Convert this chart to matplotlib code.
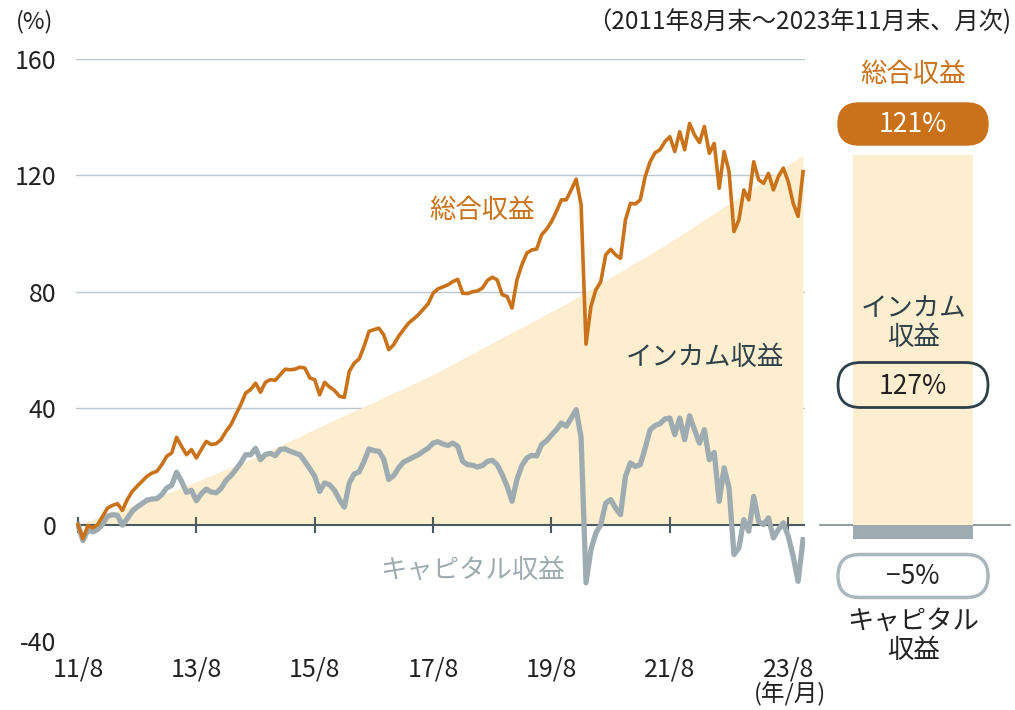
import matplotlib
matplotlib.use("Agg")
import matplotlib.pyplot as plt
from matplotlib.patches import FancyBboxPatch
import numpy as np

plt.rcParams["font.family"] = ["Noto Sans CJK JP", "DejaVu Sans"]
plt.rcParams["axes.unicode_minus"] = False

# monthly cumulative returns (%), 2011/8 .. 2023/11
total = [
    0.0, -4.9, -0.3, -1.1, 0.0, 2.9, 5.7, 6.6, 7.2, 4.9, 8.6, 11.4,
    13.2, 14.9, 16.6, 17.7, 18.3, 20.6, 23.5, 24.6, 30.0, 26.9, 24.0, 25.8,
    22.9, 25.8, 28.6, 27.5, 27.8, 29.2, 32.0, 34.3, 37.8, 41.2, 45.2, 46.4,
    48.6, 45.5, 48.9, 49.8, 49.6, 51.5, 53.4, 53.2, 53.4, 54.1, 53.8, 50.4,
    49.8, 44.6, 48.9, 47.3, 46.1, 44.1, 43.7, 52.6, 55.5, 56.9, 61.2, 66.4,
    67.0, 67.5, 65.2, 60.1, 61.8, 64.7, 67.0, 69.2, 70.6, 72.1, 74.0, 75.9,
    79.5, 81.0, 81.7, 82.4, 83.5, 84.3, 79.5, 79.4, 80.0, 80.3, 81.3, 83.9,
    85.0, 84.1, 79.0, 78.4, 74.4, 84.1, 89.3, 93.3, 94.4, 94.7, 99.6, 101.5,
    104.1, 107.6, 111.6, 111.6, 115.0, 118.7, 110.0, 62.0, 75.0, 80.7, 83.5, 92.7,
    94.6, 92.7, 91.5, 104.7, 110.4, 110.2, 111.6, 119.6, 124.7, 127.8, 128.8, 131.6,
    133.3, 128.2, 135.0, 128.8, 137.9, 133.9, 131.3, 136.8, 127.6, 131.0, 115.6, 128.2,
    121.3, 100.7, 104.7, 115.0, 111.6, 124.7, 118.5, 117.3, 120.7, 115.0, 119.6, 122.5,
    117.9, 110.4, 105.9, 121.3,
]
capital = [
    0.0, -5.5, -1.9, -2.5, -1.7, 0.2, 2.9, 3.4, 3.2, -0.2, 2.1, 4.6,
    6.1, 7.2, 8.4, 8.8, 8.9, 10.3, 12.6, 13.5, 18.0, 14.9, 11.1, 11.8,
    8.2, 10.6, 12.2, 11.2, 10.9, 12.4, 15.1, 16.8, 18.9, 21.2, 24.0, 24.0,
    26.2, 22.3, 24.1, 24.5, 23.7, 25.8, 26.0, 25.2, 24.6, 24.0, 21.7, 19.2,
    16.6, 11.4, 14.3, 13.7, 11.8, 8.6, 6.0, 14.3, 17.4, 18.1, 21.7, 26.0,
    25.4, 25.2, 22.5, 15.5, 16.8, 19.5, 21.5, 22.3, 23.2, 24.0, 25.2, 26.3,
    28.0, 28.5, 27.7, 27.2, 28.0, 26.9, 21.7, 20.6, 20.4, 19.8, 20.3, 21.7,
    22.1, 20.6, 17.2, 13.2, 8.0, 15.5, 20.3, 22.9, 23.8, 23.6, 27.5, 28.8,
    30.8, 32.6, 34.9, 33.8, 36.6, 39.5, 30.0, -20.0, -8.6, -2.9, 0.0, 7.4,
    8.6, 5.7, 3.4, 16.6, 21.2, 20.0, 20.6, 26.3, 32.6, 34.0, 34.7, 36.3,
    36.6, 30.9, 36.6, 29.2, 37.4, 32.6, 28.0, 32.6, 22.3, 24.8, 8.0, 19.5,
    12.6, -10.3, -8.0, 1.7, -2.3, 9.7, 1.1, 0.0, 2.3, -4.6, -1.7, 0.6,
    -4.0, -10.9, -19.5, -5.2,
]
income = [
    0.0, 0.6, 1.2, 1.8, 2.4, 3.0, 3.6, 4.2, 4.8, 5.4, 6.0, 6.6,
    7.1, 7.8, 8.4, 9.0, 9.6, 10.2, 10.8, 11.4, 12.0, 12.7, 13.4, 14.1,
    14.8, 15.5, 16.2, 16.9, 17.6, 18.3, 19.0, 19.7, 20.4, 21.1, 21.8, 22.5,
    23.2, 24.0, 24.8, 25.6, 26.4, 27.2, 28.0, 28.8, 29.6, 30.4, 31.2, 32.0,
    32.8, 33.6, 34.4, 35.2, 36.0, 36.8, 37.6, 38.3, 39.0, 39.8, 40.6, 41.4,
    42.1, 42.9, 43.7, 44.5, 45.3, 46.0, 46.8, 47.6, 48.4, 49.2, 50.0, 50.8,
    51.6, 52.5, 53.4, 54.3, 55.2, 56.1, 57.0, 57.9, 58.8, 59.7, 60.6, 61.5,
    62.4, 63.3, 64.2, 65.1, 66.0, 66.9, 67.8, 68.7, 69.6, 70.5, 71.4, 72.3,
    73.2, 74.1, 75.0, 76.0, 77.0, 78.0, 79.0, 80.0, 81.0, 82.0, 83.0, 84.0,
    85.0, 86.0, 87.0, 88.0, 89.0, 90.0, 91.0, 92.0, 93.0, 94.0, 95.0, 96.0,
    97.1, 98.2, 99.3, 100.4, 101.5, 102.6, 103.7, 104.8, 105.9, 107.0, 108.1, 109.2,
    110.3, 111.4, 112.5, 113.6, 114.7, 115.8, 116.9, 118.0, 119.1, 120.2, 121.3, 122.4,
    123.6, 124.8, 126.0, 127.0,
]
months = np.arange(len(total))

tick_months = [0, 24, 48, 72, 96, 120, 144]
tick_labels = ["11/8", "13/8", "15/8", "17/8", "19/8", "21/8", "23/8"]
y_ticks = [-40, 0, 40, 80, 120, 160]
grid_levels = [40, 80, 120, 160]

summary_total = 121
summary_income = 127
summary_capital = -5

ORANGE = "#c97219"
GRAY = "#9eacb1"
FILL = "#fdeecf"
DARK = "#2e4049"
TEXT = "#222222"
AXIS = "#4a5a61"

W, H = 1015, 710
fig = plt.figure(figsize=(W / 100, H / 100), dpi=100)


def px_rect(x0, y0, x1, y1):
    return [x0 / W, 1 - y1 / H, (x1 - x0) / W, (y1 - y0) / H]


def px_text(x, y, s, **kw):
    fig.text(x / W, 1 - y / H, s, zorder=10, **kw)


def pill(cx, cy, w, h, face, edge, lw):
    box = FancyBboxPatch(((cx - w / 2) / 100, (H - cy - h / 2) / 100), w / 100, h / 100,
                         boxstyle=f"round,pad=0,rounding_size={h / 200}",
                         transform=fig.dpi_scale_trans, facecolor=face,
                         edgecolor=edge, linewidth=lw, zorder=5)
    fig.add_artist(box)


# main chart
ax = fig.add_axes(px_rect(76, 59, 805, 641))
ax.set_xlim(-0.4, 147.4)
ax.set_ylim(-40, 160)
for v in grid_levels:
    ax.axhline(v, color="#bcc7ce", lw=1, zorder=0)
ax.fill_between(months, 0, income, color=FILL, lw=0, zorder=1)
ax.axhline(0, color=AXIS, lw=1.5, zorder=2)
ax.plot(tick_months, [0] * len(tick_months), ls="none", marker="|", ms=12,
        mew=1.5, color=AXIS, zorder=2)
ax.plot(months, capital, color=GRAY, lw=3.8, zorder=3, solid_joinstyle="round")
ax.plot(months, total, color=ORANGE, lw=2.6, zorder=4, solid_joinstyle="round")

ax.set_xticks(tick_months, tick_labels)
ax.set_yticks(y_ticks)
ax.tick_params(axis="x", length=0, pad=11, labelsize=18, labelcolor=TEXT)
ax.tick_params(axis="y", length=0, pad=14, labelsize=18, labelcolor=TEXT)
for s in ax.spines.values():
    s.set_visible(False)

ax.text(82, 108, "総合収益", color=ORANGE, fontsize=19, ha="center", va="center")
ax.text(127, 57.5, "インカム収益", color=DARK, fontsize=19, ha="center", va="center")
ax.text(80, -15.5, "キャピタル収益", color=GRAY, fontsize=19, ha="center", va="center")

px_text(35, 22, "(%)", fontsize=17, color=TEXT, ha="center", va="center")
px_text(1011, 22, "（2011年8月末～2023年11月末、月次)", fontsize=17.5, color=TEXT,
        ha="right", va="center")
px_text(790, 694, "(年/月)", fontsize=17, color=TEXT, ha="center", va="center")

# summary bar on the right
ax2 = fig.add_axes(px_rect(818, 59, 1012, 641))
ax2.set_xlim(818, 1012)
ax2.set_ylim(-40, 160)
ax2.axis("off")
ax2.axhline(0, xmin=0.01, xmax=0.99, color="#7b8a90", lw=1.2, zorder=0)
ax2.bar(913, summary_income, width=120, color=FILL, zorder=1)
ax2.bar(913, summary_capital, width=120, color=GRAY, zorder=1)

px_text(913, 75, "総合収益", fontsize=19, color=ORANGE, ha="center", va="center")
pill(913, 124, 150, 42, ORANGE, ORANGE, 1)
px_text(913, 125, f"{summary_total}%", fontsize=19, color="white", ha="center", va="center")

px_text(913, 323, "インカム\n収益", fontsize=19, color=DARK, ha="center", va="center",
        linespacing=1.05)
pill(913, 385, 150, 45, "none", DARK, 2)
px_text(913, 386, f"{summary_income}%", fontsize=19, color=TEXT, ha="center", va="center")

pill(913, 576, 150, 43, "white", "#aab7bc", 2.5)
px_text(913, 577, f"−{abs(summary_capital)}%", fontsize=19, color=TEXT, ha="center", va="center")
px_text(913, 636, "キャピタル\n収益", fontsize=19, color=TEXT, ha="center", va="center",
        linespacing=1.05)

fig.savefig("out.png", dpi=100)
